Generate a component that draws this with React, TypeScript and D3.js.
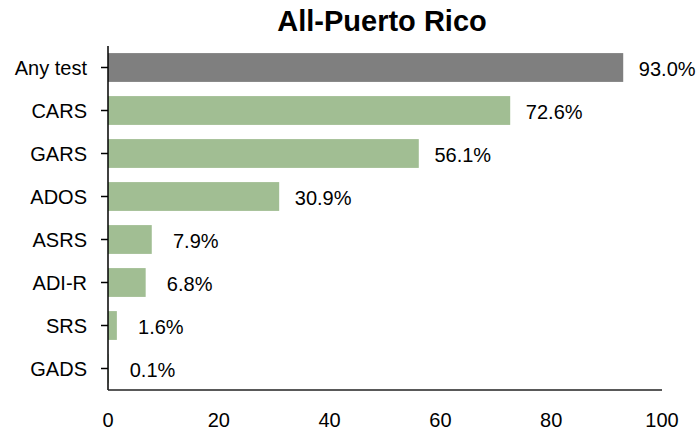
import React from "react";
import * as d3 from "d3";

const categories = ["Any test", "CARS", "GARS", "ADOS", "ASRS", "ADI-R", "SRS", "GADS"];
const values = [93.0, 72.6, 56.1, 30.9, 7.9, 6.8, 1.6, 0.1];
const xTicks = [0, 20, 40, 60, 80, 100];
const title = "All-Puerto Rico";

export default function App() {
  const W = 698, H = 432;
  const left = 108, right = 662, top = 46, bottom = 390;
  const x = d3.scaleLinear().domain([0, 100]).range([left, right]);
  const y = d3.scaleBand<string>().domain(categories).range([top, bottom]).paddingInner(0.33).paddingOuter(0.165);
  const font = "'Liberation Sans', Arial, sans-serif";
  return (
    <svg width={W} height={H} style={{ position: "absolute", left: 0, top: 0, background: "#fff" }}>
      <text x={382} y={31} textAnchor="middle" fontFamily={font} fontWeight={700} fontSize={29} fill="#000">{title}</text>
      {categories.map((c, i) => {
        const yy = y(c)!;
        const cy = yy + y.bandwidth() / 2;
        return (
          <g key={c}>
            <rect x={x(0)} y={yy} width={x(values[i]) - x(0)} height={y.bandwidth()} fill={i === 0 ? "#7f7f7f" : "#a1be93"} />
            <text x={x(values[i]) + 44} y={cy + 8.5} textAnchor="middle" fontFamily={font} fontSize={20} fill="#000">{values[i].toFixed(1)}%</text>
            <line x1={left - 7} x2={left} y1={cy} y2={cy} stroke="#000" strokeWidth={1.5} />
            <text x={87} y={cy + 7} textAnchor="end" fontFamily={font} fontSize={20} fill="#000">{c}</text>
          </g>
        );
      })}
      <line x1={left} x2={left} y1={top} y2={bottom} stroke="#000" strokeWidth={1.5} />
      <line x1={left} x2={right} y1={bottom} y2={bottom} stroke="#222" strokeWidth={1.5} />
      {xTicks.map(t => (
        <text key={t} x={x(t)} y={427} textAnchor="middle" fontFamily={font} fontSize={20} fill="#000">{t}</text>
      ))}
    </svg>
  );
}
